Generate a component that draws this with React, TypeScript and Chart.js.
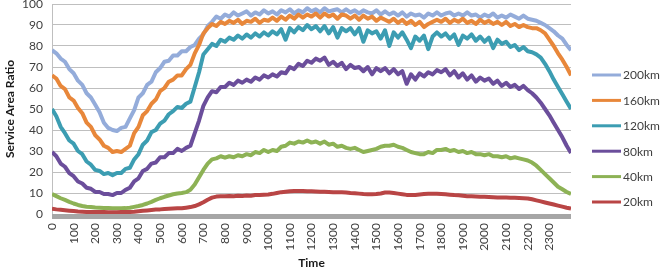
import React, { useEffect, useRef } from 'react';
import { Chart, registerables } from 'chart.js';

Chart.register(...registerables);

// Sampling instants (every 20 time units, 0..2400)
const times: number[] = Array.from({ length: 121 }, (_, i) => i * 20);

const seriesNames = ['200km', '160km', '120km', '80km', '40km', '20km'];
const seriesColors = ['#94ACDA', '#E8873A', '#3C9DB2', '#6B4E9B', '#8DB255', '#B94545'];

const km200 = [
  78, 76.5, 74, 72.5, 69, 67, 63.5, 61.5, 57.5, 55.5,
  52, 48.5, 43.5, 41, 40, 39.5, 41, 41.5, 45.5, 49.5,
  55.5, 57.5, 61.5, 63, 67.5, 69.5, 72.5, 73, 75.5, 75.5,
  77.5, 77.5, 79.5, 80.5, 83.5, 85.5, 89.5, 91.5, 94, 93,
  95, 94, 96, 94.5, 95.5, 96.5, 94.5, 96, 95, 97,
  95.5, 96.5, 95, 97, 96, 97.5, 95.5, 97, 96, 98,
  96.5, 97.5, 96, 98, 96.5, 97, 97.5, 96, 97.5, 96,
  97, 95.5, 97, 96, 95.5, 97, 95, 96.5, 95, 96,
  94.5, 96, 94, 95.5, 94.5, 95, 93.5, 95.5, 94.5, 96,
  94.5, 95.5, 96, 94.5, 95.5, 94.5, 96, 94.5, 95, 93.5,
  95, 94, 95.5, 93.5, 94.5, 93.5, 95, 94, 93, 94.5,
  93, 92.5, 92, 91, 90, 88.5, 87, 85, 83.5, 80.5,
  78,
];

const km160 = [
  66, 64.5, 61, 59.5, 55.5, 54, 50.5, 48, 43.5, 41.5,
  37.5, 35.5, 32.5, 31.5, 29.5, 30, 29.5, 31, 32.5, 38.5,
  41.5, 47, 49, 52.5, 54.5, 58.5, 60, 63, 64, 66,
  66, 69, 71, 76.5, 80.5, 86, 88.5, 90.5, 89.5, 91.5,
  90.5, 92, 91, 92.5, 90.5, 92, 91.5, 93, 91, 92.5,
  92, 93.5, 92, 94, 92.5, 94.5, 93, 95, 93.5, 95,
  94, 95.5, 93.5, 95.5, 94, 95, 93, 95, 94.5, 93,
  94.5, 92.5, 94.5, 93, 94, 92, 93.5, 92.5, 91.5, 93,
  91, 92.5, 90.5, 92, 90, 91.5, 89, 90.5, 91.5, 92.5,
  91.5, 93, 91, 92.5, 91.5, 93, 91, 92, 90.5, 92.5,
  91, 92, 90.5, 91.5, 90, 91.5, 89.5, 90.5, 89, 90,
  89, 88.5, 88.5, 87.5, 86, 83, 80, 76.5, 73.5, 70,
  66,
];

const km120 = [
  50, 46.5, 41.5, 38.5, 35, 33.5, 30, 28.5, 25, 23.5,
  21, 20.5, 19, 19.5, 18.5, 19.5, 19.5, 21.5, 22, 26,
  28.5, 33, 35, 39, 40, 43, 44.5, 47.5, 49, 51,
  50.5, 52.5, 53.5, 60.5, 67.5, 76, 78.5, 81, 80, 83,
  82, 84, 83, 85, 83.5, 85.5, 84, 86, 84.5, 86.5,
  85, 87, 85.5, 88, 83, 88.5, 86.5, 89, 87.5, 90,
  88, 89.5, 87, 89.5, 86, 89, 84, 88.5, 87, 88.5,
  85.5, 88.5, 82, 87.5, 86, 87, 83.5, 87.5, 80, 86.5,
  84, 86.5, 83, 79, 84.5, 82.5, 85, 78.5, 84.5, 86.5,
  84.5, 86, 83.5, 85.5, 80.5, 85, 83.5, 85.5, 82.5, 84.5,
  82, 84, 79, 83, 81, 82, 79.5, 80.5, 78, 79.5,
  77.5, 77, 76, 74.5, 71.5, 68, 64, 60.5, 57, 53.5,
  50,
];

const km80 = [
  29.5, 27.5, 24, 22.5, 19.5, 18, 15.5, 14.5, 12.5, 12,
  10.5, 10.5, 9.5, 9.5, 9, 10, 10, 11.5, 12.5, 15.5,
  17, 20.5, 21.5, 24, 24.5, 27, 27, 29, 29, 31,
  30, 31.5, 32.5, 38.5, 44.5, 51.5, 55.5, 58.5, 58, 60.5,
  60.5, 62.5, 61.5, 63.5, 62.5, 64, 63, 65, 64, 66,
  65, 66.5, 65.5, 67.5, 67, 70, 69, 71.5, 70.5, 73,
  72, 74, 73, 74.5, 71, 72.5, 70.5, 72, 69, 71,
  69.5, 70, 68, 70, 66.5, 69.5, 68, 69.5, 67, 69,
  66.5, 68, 62, 66.5, 64, 67, 65.5, 67.5, 66.5, 68.5,
  67.5, 69, 66, 68, 65, 67, 64, 66, 63, 65,
  63.5, 64.5, 62, 63.5, 61, 62.5, 60.5, 61.5, 59.5, 61,
  59, 57.5, 55.5, 53, 50, 47, 43.5, 40, 36.5, 32.5,
  29,
];

const km40 = [
  9.5, 8.5, 7.5, 6.7, 5.8, 5, 4.3, 3.8, 3.5, 3.3,
  3.1, 3, 2.9, 2.8, 2.7, 2.7, 2.7, 2.8, 3, 3.4,
  3.8, 4.3, 5, 5.8, 6.7, 7.5, 8.2, 8.8, 9.4, 9.8,
  10, 10.4, 11.5, 14, 17.5, 21, 24, 26, 26.5, 27.5,
  26.8, 27.5, 27, 28, 27.5, 28.5, 28, 29.5, 29, 30.5,
  29.5, 30.5, 30, 32, 32.5, 34, 33.5, 34.5, 34, 35,
  34, 34.5, 33.5, 34.5, 33, 33.5, 32, 32.5, 31.5, 31,
  31.5, 30.5, 29.5, 30, 30.5, 31, 32, 32.5, 32.5, 33,
  32, 31.5, 30.5, 29.5, 29, 28.5, 28.5, 29.5, 29, 30.5,
  30.5, 31, 30, 30.5, 29.5, 30, 29, 29.5, 28.5, 28.5,
  28, 28.5, 27.5, 27.5, 27, 27.5, 26.5, 27, 26.5, 26,
  25.5, 24.5, 23, 21, 19, 17, 15, 13, 11.8, 10.5,
  9.5,
];

const km20 = [
  2.5, 2.2, 2, 1.8, 1.6, 1.4, 1.2, 1.1, 1, 1,
  0.9, 0.9, 0.9, 0.8, 0.8, 0.8, 0.9, 0.9, 1, 1.1,
  1.3, 1.5, 1.7, 1.9, 2.1, 2.2, 2.4, 2.5, 2.6, 2.7,
  2.7, 3, 3.3, 3.8, 4.6, 5.6, 6.8, 7.8, 8.3, 8.5,
  8.4, 8.6, 8.5, 8.7, 8.6, 8.8, 8.7, 9, 9, 9.2,
  9.3, 9.6, 10, 10.4, 10.6, 10.8, 10.9, 11, 10.9, 10.8,
  10.8, 10.7, 10.6, 10.6, 10.5, 10.4, 10.4, 10.3, 10.2, 10,
  9.9, 9.7, 9.5, 9.4, 9.4, 9.5, 9.8, 10.2, 10.2, 10,
  9.7, 9.4, 9.1, 9, 9.1, 9.3, 9.5, 9.6, 9.7, 9.6,
  9.5, 9.4, 9.2, 9, 8.9, 8.7, 8.5, 8.4, 8.3, 8.2,
  8.2, 8.1, 8, 7.9, 7.8, 7.8, 7.7, 7.7, 7.6, 7.5,
  7.4, 7, 6.5, 6, 5.5, 5, 4.5, 4, 3.5, 3,
  2.6,
];

const seriesValues = [km200, km160, km120, km80, km40, km20];

const FONT = 'Lato, "Open Sans", sans-serif';
const TEXT_COLOR = '#404040';

// Thick grey base under the plot, as an axis band
const axisBand = {
  id: 'axisBand',
  beforeDatasetsDraw(chart: any) {
    const { ctx, chartArea } = chart;
    ctx.save();
    ctx.fillStyle = '#A6A6A6';
    ctx.fillRect(chartArea.left, chartArea.bottom, chartArea.right - chartArea.left, 5);
    ctx.restore();
  },
};

// Legend drawn to the right of the plot: short line sample followed by the name
const sideLegend = {
  id: 'sideLegend',
  afterDraw(chart: any) {
    const { ctx, chartArea } = chart;
    const lineX = chartArea.right + 21;
    const lineW = 29;
    const top = 75;
    const gap = 25.4;
    ctx.save();
    ctx.font = `12px ${FONT}`;
    ctx.textBaseline = 'middle';
    ctx.textAlign = 'left';
    seriesNames.forEach((name, i) => {
      const y = top + i * gap;
      ctx.strokeStyle = seriesColors[i];
      ctx.lineWidth = 3;
      ctx.beginPath();
      ctx.moveTo(lineX, y);
      ctx.lineTo(lineX + lineW, y);
      ctx.stroke();
      ctx.fillStyle = TEXT_COLOR;
      ctx.fillText(name, lineX + lineW + 2, y + 0.5);
    });
    ctx.restore();
  },
};

export default function App() {
  const canvasRef = useRef<HTMLCanvasElement | null>(null);

  useEffect(() => {
    const canvas = canvasRef.current;
    if (!canvas) return;

    // Datasets listed top-to-bottom; later ones are painted over earlier ones
    const datasets = seriesNames.map((name, i) => ({
      label: name,
      data: seriesValues[i].map((v, j) => ({ x: times[j], y: v })),
      borderColor: seriesColors[i],
      backgroundColor: seriesColors[i],
      borderWidth: 4,
      borderJoinStyle: 'round' as const,
      pointRadius: 0,
      tension: 0,
      fill: false,
      order: seriesNames.length - i,
    }));

    const chart = new Chart(canvas, {
      type: 'line',
      data: { datasets },
      plugins: [axisBand, sideLegend],
      options: {
        animation: false,
        responsive: false,
        maintainAspectRatio: false,
        layout: { padding: { left: 0, right: 95, top: 4, bottom: 0 } },
        plugins: {
          legend: { display: false },
          tooltip: { enabled: false },
        },
        scales: {
          x: {
            type: 'linear',
            min: 0,
            max: 2400,
            afterFit: (scale: any) => {
              scale.height = 62;
              scale.paddingLeft = 0;
              scale.paddingRight = 0;
            },
            ticks: {
              stepSize: 100,
              minRotation: 90,
              maxRotation: 90,
              padding: 9,
              color: TEXT_COLOR,
              font: { family: FONT, size: 12 },
              callback: (v: any) => (Number(v) >= 2400 ? '' : String(v)),
            },
            grid: { display: false, drawTicks: false },
            border: { display: false },
            title: {
              display: true,
              text: 'Time',
              color: '#1a1a1a',
              font: { family: FONT, size: 12, weight: 'bold' },
              padding: { top: 0, bottom: 6 },
            },
          },
          y: {
            min: 0,
            max: 100,
            afterFit: (scale: any) => {
              scale.width = 52;
              scale.paddingTop = 0;
              scale.paddingBottom = 0;
            },
            ticks: {
              stepSize: 10,
              padding: 9,
              color: TEXT_COLOR,
              font: { family: FONT, size: 12 },
            },
            grid: { color: '#BFBFBF', lineWidth: 1, drawTicks: false },
            border: { color: '#BFBFBF', width: 1 },
            title: {
              display: true,
              text: 'Service Area Ratio',
              color: '#1a1a1a',
              font: { family: FONT, size: 12, weight: 'bold' },
              padding: { top: 3, bottom: 0 },
            },
          },
        },
      },
    });

    return () => chart.destroy();
  }, []);

  return (
    <div style={{ position: 'fixed', left: 0, top: 0, width: 666, height: 276, background: '#fff' }}>
      <canvas ref={canvasRef} width={666} height={276} />
    </div>
  );
}
